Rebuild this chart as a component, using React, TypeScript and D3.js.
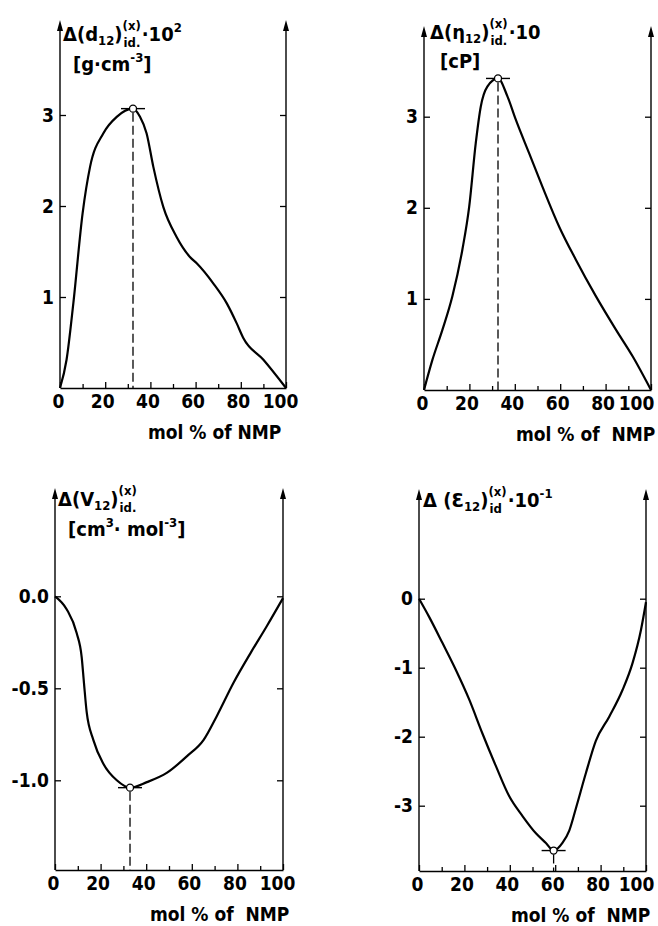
import React, { useEffect, useRef } from 'react';
import * as d3 from 'd3';

// mol % of NMP for each curve
const densityX = [0, 2.9, 5.9, 10, 13.3, 19.2, 25.1, 32.3, 35.4, 38.3, 41.3, 45.7, 51.6, 57.5, 60.5, 67.8, 73.8, 78.2, 81.1, 90, 100];
const densityY = [0, 0.31, 0.93, 1.92, 2.43, 2.8, 2.98, 3.07, 2.98, 2.8, 2.43, 1.99, 1.66, 1.44, 1.37, 1.15, 0.93, 0.71, 0.55, 0.31, 0];

const viscosityX = [0, 3.7, 8.1, 12.5, 16.9, 19.9, 22.8, 25, 27.9, 32.6, 36.8, 40.4, 46.3, 52.2, 59.6, 66.9, 75.7, 84.6, 91.9, 100];
const viscosityY = [0, 0.33, 0.66, 1.03, 1.54, 2.01, 2.71, 3.11, 3.33, 3.42, 3.22, 2.97, 2.6, 2.23, 1.79, 1.43, 1.03, 0.66, 0.37, 0];

const volumeX = [0, 5.1, 9.5, 11.7, 12.7, 13.9, 16.8, 21.2, 27.1, 32.9, 40.3, 49, 57.8, 65.2, 71, 78.3, 85.7, 93, 100];
const volumeY = [0, -0.07, -0.2, -0.33, -0.47, -0.63, -0.78, -0.91, -1.0, -1.04, -1.01, -0.96, -0.87, -0.78, -0.65, -0.47, -0.31, -0.16, -0.01];

const permX = [0, 4.4, 10.3, 16.2, 22.1, 27.9, 33.8, 39.7, 45.6, 51.5, 55.9, 59.3, 63.2, 66.2, 69.1, 73.5, 77.9, 83.8, 89.7, 94.1, 97.8, 100];
const permY = [0, -0.26, -0.64, -1.03, -1.46, -1.95, -2.42, -2.86, -3.15, -3.4, -3.54, -3.65, -3.54, -3.36, -3.04, -2.53, -2.06, -1.71, -1.32, -0.93, -0.45, -0.05];

// marked extrema [mol %, value]
const densityPeak = [32.3, 3.07];
const viscosityPeak = [32.6, 3.42];
const volumeMin = [32.9, -1.04];
const permMin = [59.3, -3.65];

const xMajor = [0, 20, 40, 60, 80, 100];
const xMinor = [10, 30, 50, 70, 90];
const densityTicks = [1, 2, 3];
const viscosityTicks = [1, 2, 3];
const volumeTicks = [0, -0.5, -1.0];
const volumeTickLabels = ['0.0', '-0.5', '-1.0'];
const permTicks = [0, -1, -2, -3];
const permTickLabels = ['0', '-1', '-2', '-3'];

const FONT = "'DejaVu Sans Condensed', 'Liberation Sans Narrow', 'DejaVu Sans', sans-serif";

type Seg = { t: string; size?: number; dy?: number } | { sup: string; sub: string };

const panels = [
  {
    xs: densityX, ys: densityY, mark: densityPeak, ticks: densityTicks, tickLabels: densityTicks.map(String),
    left: 60, right: 286, bottom: 388, top: 20, yDom: [0, 3], yPx: [388, 115], xTitle: 'mol % of NMP', xTitleX: 148, lastDx: -6,
    label: [[{ t: 'Δ(d' }, { t: '12', size: 13, dy: 4 }, { t: ')' }, { sup: '(x)', sub: 'id.' }, { t: '·10' }, { t: '2', size: 13, dy: -9 }],
      [{ t: '[g·cm' }, { t: '-3', size: 13, dy: -9 }, { t: ']' }]] as Seg[][],
    labelPos: [[63, 41], [73, 71]],
  },
  {
    xs: viscosityX, ys: viscosityY, mark: viscosityPeak, ticks: viscosityTicks, tickLabels: viscosityTicks.map(String),
    left: 424, right: 651, bottom: 390, top: 26, yDom: [0, 3], yPx: [390, 116.7], xTitle: 'mol % of  NMP', xTitleX: 516, lastDx: -15,
    label: [[{ t: 'Δ(η' }, { t: '12', size: 13, dy: 4 }, { t: ')' }, { sup: '(x)', sub: 'id.' }, { t: '·10' }],
      [{ t: '[cP]' }]] as Seg[][],
    labelPos: [[430, 39], [440, 68]],
  },
  {
    xs: volumeX, ys: volumeY, mark: volumeMin, ticks: volumeTicks, tickLabels: volumeTickLabels,
    left: 55, right: 283, bottom: 870, top: 488, yDom: [0, -1], yPx: [596.3, 780.3], xTitle: 'mol % of  NMP', xTitleX: 150, lastDx: -6,
    label: [[{ t: 'Δ(V' }, { t: '12', size: 13, dy: 4 }, { t: ')' }, { sup: '(x)', sub: 'id.' }],
      [{ t: '[cm' }, { t: '3', size: 13, dy: -9 }, { t: '· mol' }, { t: '-3', size: 13, dy: -9 }, { t: ']' }]] as Seg[][],
    labelPos: [[58, 506], [68, 536]],
  },
  {
    xs: permX, ys: permY, mark: permMin, ticks: permTicks, tickLabels: permTickLabels,
    left: 419, right: 646, bottom: 871, top: 489, yDom: [0, -3], yPx: [598.7, 805.7], xTitle: 'mol % of  NMP', xTitleX: 511, lastDx: -10,
    label: [[{ t: 'Δ (Ɛ' }, { t: '12', size: 13, dy: 4 }, { t: ')' }, { sup: '(x)', sub: 'id' }, { t: '·10' }, { t: '-1', size: 13, dy: -9 }]] as Seg[][],
    labelPos: [[423, 507]],
  },
];

function drawLabel(g: any, x: number, y: number, segs: Seg[]) {
  let cx = x;
  segs.forEach((s: any) => {
    if (s.sup !== undefined) {
      const a = g.append('text').attr('x', cx).attr('y', y - 11).attr('font-size', 13).text(s.sup);
      const b = g.append('text').attr('x', cx + 1).attr('y', y + 6).attr('font-size', 13).text(s.sub);
      cx += Math.max(a.node().getComputedTextLength(), b.node().getComputedTextLength() + 1) + 1;
    } else {
      const t = g.append('text').attr('x', cx).attr('y', y + (s.dy || 0)).attr('font-size', s.size || 20).text(s.t);
      cx += t.node().getComputedTextLength();
    }
  });
}

const App = () => {
  const svgRef = useRef<SVGSVGElement>(null);

  useEffect(() => {
    const svg = d3.select(svgRef.current);
    svg.selectAll('*').remove();
    svg.attr('font-family', FONT).attr('font-weight', 'bold');

    panels.forEach(p => {
      const g = svg.append('g');
      const x = d3.scaleLinear().domain([0, 100]).range([p.left, p.right]);
      const y = d3.scaleLinear().domain(p.yDom).range(p.yPx);

      // x axis, labelled majors + short minors
      const ax = g.append('g').attr('transform', `translate(0,${p.bottom})`)
        .call(d3.axisBottom(x).tickValues(xMajor).tickSizeInner(-6).tickSizeOuter(0).tickPadding(7).tickFormat(d3.format('d')));
      ax.select('.domain').attr('stroke-width', 1.4);
      ax.selectAll('line').attr('stroke-width', 1.3);
      ax.selectAll('text').attr('font-size', 19).attr('font-family', FONT).attr('fill', '#000')
        .attr('dx', (d: any) => (d === 100 ? p.lastDx : d === 0 ? -2 : -3));
      const axm = g.append('g').attr('transform', `translate(0,${p.bottom})`)
        .call(d3.axisBottom(x).tickValues(xMinor).tickSize(-4).tickFormat(() => ''));
      axm.select('.domain').remove();
      axm.selectAll('line').attr('stroke-width', 1.3);

      // left and right y axes with inward ticks
      const ay = g.append('g').attr('transform', `translate(${p.left},0)`)
        .call(d3.axisLeft(y).tickValues(p.ticks).tickSize(-6).tickPadding(6).tickFormat((d, i) => p.tickLabels[i]));
      ay.select('.domain').remove();
      ay.selectAll('line').attr('stroke-width', 1.3);
      ay.selectAll('text').attr('font-size', 19).attr('font-family', FONT).attr('fill', '#000');
      const ar = g.append('g').attr('transform', `translate(${p.right},0)`)
        .call(d3.axisRight(y).tickValues(p.ticks).tickSize(-6).tickFormat(() => ''));
      ar.select('.domain').remove();
      ar.selectAll('line').attr('stroke-width', 1.3);

      [p.left, p.right].forEach(ex => {
        g.append('line').attr('x1', ex).attr('x2', ex).attr('y1', p.bottom).attr('y2', p.top + 8)
          .attr('stroke', '#000').attr('stroke-width', 1.4);
        g.append('path').attr('d', `M${ex},${p.top} L${ex - 3},${p.top + 11} L${ex + 3},${p.top + 11} Z`).attr('fill', '#000');
      });

      // curve
      const pts = p.xs.map((v, i) => [v, p.ys[i]] as [number, number]);
      g.append('path').datum(pts)
        .attr('d', d3.line().x(d => x(d[0])).y(d => y(d[1])).curve(d3.curveMonotoneX))
        .attr('fill', 'none').attr('stroke', '#000').attr('stroke-width', 2.2);

      // extremum marker
      const mx = x(p.mark[0]);
      const my = y(p.mark[1]);
      g.append('line').attr('x1', mx).attr('x2', mx).attr('y1', my + 4).attr('y2', p.bottom)
        .attr('stroke', '#000').attr('stroke-width', 1.3).attr('stroke-dasharray', '9,4');
      g.append('line').attr('x1', mx - 12).attr('x2', mx + 12).attr('y1', my).attr('y2', my)
        .attr('stroke', '#000').attr('stroke-width', 1.4);
      g.append('circle').attr('cx', mx).attr('cy', my).attr('r', 3.5)
        .attr('fill', '#fff').attr('stroke', '#000').attr('stroke-width', 1.3);

      // titles
      g.append('text').attr('x', p.xTitleX).attr('y', p.bottom + 51).attr('font-size', 19)
        .style('white-space', 'pre').text(p.xTitle);
      p.label.forEach((segs, i) => drawLabel(g, p.labelPos[i][0], p.labelPos[i][1], segs));
    });
  }, []);

  return (
    <svg ref={svgRef} width={658} height={926}
      style={{ position: 'absolute', left: 0, top: 0, background: '#fff', display: 'block' }} />
  );
};

export default App;
